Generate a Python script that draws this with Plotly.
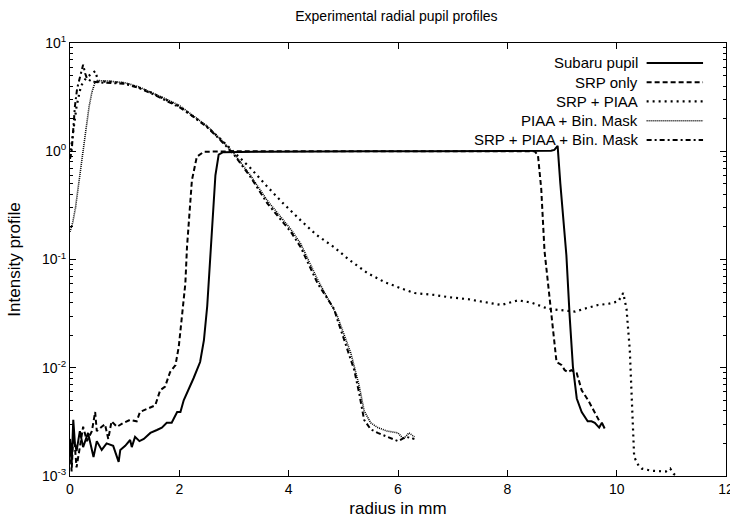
import plotly.graph_objects as go

# --- Data ---
subaru_x = [0.0, 0.03, 0.06, 0.09, 0.12, 0.18, 0.24, 0.33, 0.43, 0.49,
            0.58, 0.67, 0.79, 0.89, 0.92, 1.01, 1.10, 1.13, 1.19, 1.27,
            1.35, 1.47, 1.59, 1.68, 1.77, 1.86, 1.96, 2.02, 2.08, 2.17,
            2.26, 2.38, 2.45, 2.51, 2.57, 2.62, 2.66, 2.72, 2.8, 3.5,
            4.5, 5.5, 6.5, 7.5, 8.5, 8.8, 8.86, 8.92, 8.97, 9.03,
            9.08, 9.14, 9.2, 9.27, 9.36, 9.47, 9.54, 9.6, 9.68, 9.73, 9.78]
subaru_y = [2.2e-3, 1.3e-3, 3.3e-3, 2.0e-3, 1.7e-3, 2.6e-3, 1.85e-3, 2.5e-3, 1.5e-3, 2.1e-3,
            1.74e-3, 2.0e-3, 1.9e-3, 1.35e-3, 1.74e-3, 1.9e-3, 2.15e-3, 1.85e-3, 2.3e-3, 2.1e-3,
            2.2e-3, 2.5e-3, 2.66e-3, 2.8e-3, 3.1e-3, 3.1e-3, 3.9e-3, 3.9e-3, 5.0e-3, 6.3e-3,
            8.0e-3, 1.13e-2, 1.8e-2, 3.7e-2, 0.12, 0.3, 0.6, 0.93, 0.98, 0.99,
            1.0, 1.0, 1.0, 1.0, 1.0, 1.01, 1.03, 1.12, 0.5, 0.2,
            0.11, 0.03, 0.0102, 5.2e-3, 3.9e-3, 3.2e-3, 3.2e-3, 3.1e-3, 2.8e-3, 3.1e-3, 2.75e-3]

srp_x = [0.0, 0.03, 0.06, 0.09, 0.12, 0.15, 0.2, 0.24, 0.31, 0.36,
         0.40, 0.46, 0.49, 0.58, 0.64, 0.70, 0.76, 0.86, 0.98, 1.10,
         1.22, 1.28, 1.41, 1.56, 1.65, 1.74, 1.83, 1.93, 1.99, 2.05,
         2.11, 2.14, 2.19, 2.23, 2.32, 2.45, 3.0, 4.0, 5.0, 6.0,
         7.0, 8.0, 8.5, 8.56, 8.62, 8.68, 8.78, 8.84, 8.9, 8.99,
         9.05, 9.11, 9.17, 9.27, 9.36, 9.48, 9.57, 9.66, 9.7]
srp_y = [2.0e-3, 1.1e-3, 2.4e-3, 1.85e-3, 1.2e-3, 1.5e-3, 2.3e-3, 2.85e-3, 2.1e-3, 2.4e-3,
         2.6e-3, 3.9e-3, 2.6e-3, 2.85e-3, 3.0e-3, 2.2e-3, 3.2e-3, 2.85e-3, 3.1e-3, 3.3e-3,
         3.2e-3, 3.9e-3, 4.2e-3, 4.5e-3, 6.2e-3, 6.7e-3, 9.1e-3, 1.06e-2, 1.57e-2, 2.97e-2,
         6.0e-2, 0.13, 0.3, 0.54, 0.89, 0.99, 1.0, 1.0, 1.0, 1.0,
         1.0, 1.0, 1.0, 0.92, 0.45, 0.12, 0.042, 0.021, 0.0113, 0.0106,
         9.5e-3, 9.1e-3, 9.5e-3, 8.9e-3, 6.2e-3, 5.0e-3, 4.1e-3, 3.3e-3, 3.1e-3]

piaa_x = [0.0, 0.06, 0.12, 0.2, 0.3, 0.4, 0.46, 0.52, 0.7, 1.0,
          1.25, 1.5, 1.75, 2.0, 2.25, 2.5, 2.75, 3.0, 3.3, 3.61,
          3.9, 4.22, 4.5, 4.83, 5.1, 5.44, 5.75, 6.06, 6.3, 6.67,
          6.91, 7.28, 7.52, 7.89, 8.2, 8.44, 8.75, 9.05, 9.24, 9.4,
          9.66, 9.85, 10.03, 10.12, 10.18, 10.24, 10.28, 10.32, 10.4, 10.46,
          10.63, 10.9, 10.98, 11.04, 11.16]
piaa_y = [0.9, 1.6, 2.6, 4.0, 4.8, 5.2, 5.5, 4.4, 4.4, 4.25,
          3.9, 3.45, 3.0, 2.6, 2.1, 1.7, 1.3, 0.98, 0.7, 0.47,
          0.33, 0.23, 0.17, 0.13, 0.1, 0.075, 0.062, 0.054, 0.049, 0.047,
          0.045, 0.043, 0.041, 0.038, 0.042, 0.04, 0.035, 0.034, 0.033, 0.035,
          0.038, 0.039, 0.041, 0.049, 0.035, 0.0146, 5e-3, 1.5e-3, 1.25e-3, 1.17e-3,
          1.12e-3, 1.1e-3, 1.17e-3, 1.05e-3, 0.95e-3]

binmask_x = [0.0, 0.05, 0.1, 0.15, 0.2, 0.25, 0.3, 0.35, 0.4, 0.45,
             0.5, 0.7, 1.0, 1.25, 1.5, 1.75, 2.0, 2.25, 2.5, 2.75,
             3.0, 3.3, 3.61, 4.04, 4.22, 4.53, 4.89, 5.14, 5.29, 5.38,
             5.5, 5.63, 5.8, 6.0, 6.1, 6.2, 6.3]
binmask_y = [0.18, 0.22, 0.3, 0.45, 0.7, 1.1, 1.7, 2.6, 3.5, 4.2,
             4.5, 4.45, 4.3, 3.95, 3.5, 3.05, 2.65, 2.15, 1.72, 1.3,
             0.95, 0.6, 0.35, 0.19, 0.14, 0.065, 0.03, 0.0135, 6.8e-3, 4.0e-3,
             3.1e-3, 2.8e-3, 2.6e-3, 2.5e-3, 2.2e-3, 2.5e-3, 2.3e-3]

full_x = [0.0, 0.03, 0.06, 0.09, 0.13, 0.18, 0.24, 0.28, 0.31, 0.4,
          0.6, 1.0, 1.25, 1.5, 1.75, 2.0, 2.25, 2.5, 2.75, 3.0,
          3.3, 3.61, 4.04, 4.22, 4.53, 4.83, 4.89, 5.14, 5.2, 5.29,
          5.38, 5.5, 5.63, 6.0, 6.15, 6.3]
full_y = [0.85, 1.0, 1.6, 2.6, 3.8, 4.9, 6.3, 5.2, 4.7, 4.4,
          4.3, 4.2, 3.85, 3.4, 2.95, 2.55, 2.1, 1.68, 1.27, 0.93,
          0.58, 0.33, 0.18, 0.13, 0.06, 0.035, 0.028, 0.012, 9.5e-3, 5.8e-3,
          3.3e-3, 2.7e-3, 2.5e-3, 2.1e-3, 2.3e-3, 2.2e-3]

series_names = ["Subaru pupil", "SRP only", "SRP + PIAA", "PIAA + Bin. Mask",
                "SRP + PIAA + Bin. Mask"]
dash_styles = ["solid", "5px,3px", "2px,4px", "1px,1px", "5px,3px,2px,3px"]
line_widths = [2, 2, 2.2, 1.6, 2]

y_tickvals = [1e-3, 1e-2, 1e-1, 1, 10]
y_ticktext = ["10<sup>-3</sup>", "10<sup>-2</sup>", "10<sup>-1</sup>",
              "10<sup>0</sup>", "10<sup>1</sup>"]
y_minor = [m * 10.0 ** e for e in range(-3, 1) for m in range(2, 10)]

fig = go.Figure()

data_groups = [(subaru_x, subaru_y), (srp_x, srp_y), (piaa_x, piaa_y),
               (binmask_x, binmask_y), (full_x, full_y)]
for (xs, ys), name, dash, w in zip(data_groups, series_names, dash_styles, line_widths):
    fig.add_trace(go.Scatter(x=xs, y=ys, mode="lines", name=name,
                             line=dict(color="black", width=w, dash=dash),
                             showlegend=False))

# --- gnuplot-like legend: text right aligned, line sample on the right ---
for i, (name, dash, w) in enumerate(zip(series_names, dash_styles, line_widths)):
    yy = 0.954 - i * 0.0445
    fig.add_annotation(x=0.869, y=yy, xref="paper", yref="paper", text=name,
                       showarrow=False, xanchor="right", yanchor="middle",
                       font=dict(size=15, color="black"))
    fig.add_shape(type="line", xref="paper", yref="paper",
                  x0=0.879, x1=0.965, y0=yy, y1=yy,
                  line=dict(color="black", width=w, dash=dash))

fig.update_layout(
    width=730, height=525,
    margin=dict(l=70, r=4, t=43, b=49),
    plot_bgcolor="white", paper_bgcolor="white",
    font=dict(family="Liberation Sans, Arial, sans-serif", size=14, color="black"),
    title=dict(text="Experimental radial pupil profiles", x=0.543, xanchor="center",
               y=0.97, yanchor="middle", font=dict(size=14)),
    showlegend=False,
)

fig.update_xaxes(range=[0, 12], dtick=2, ticks="inside", ticklen=6, tickcolor="black",
                 showline=True, linecolor="black", linewidth=1, mirror="allticks",
                 showgrid=False, zeroline=False, automargin=False,
                 ticklabeloverflow="allow",
                 title=dict(text="radius in mm", standoff=6))
fig.update_yaxes(type="log", range=[-3, 1], tickvals=y_tickvals, ticktext=y_ticktext,
                 ticks="inside", ticklen=6, tickcolor="black",
                 minor=dict(tickvals=y_minor, ticks="inside", ticklen=3,
                            tickcolor="black", showgrid=False),
                 showline=True, linecolor="black", linewidth=1, mirror="allticks",
                 showgrid=False, zeroline=False, automargin=False,
                 title=dict(text="Intensity profile", standoff=16))

# the page's default body margin would push the 730px figure off the window
fig.write_html("out.html", config={"displayModeBar": False},
               post_script="document.body.style.margin='0px';")
